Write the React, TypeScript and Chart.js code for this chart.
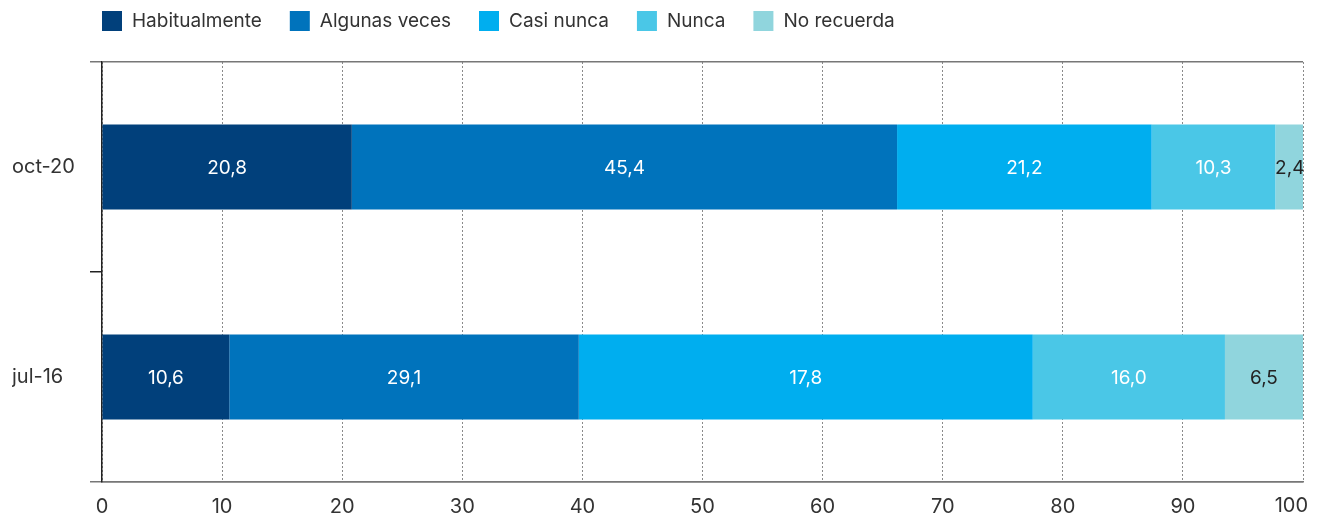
import React, { useEffect, useRef } from 'react';
import { Chart, registerables } from 'chart.js';

Chart.register(...registerables);

const categories = ['oct-20', 'jul-16'];
const seriesNames = ['Habitualmente', 'Algunas veces', 'Casi nunca', 'Nunca', 'No recuerda'];
const habitualmente = [20.8, 10.6];
const algunasVeces = [45.4, 29.1];
const casiNunca = [21.2, 37.8];
const casiNuncaShown = [21.2, 17.8];
const nunca = [10.3, 16.0];
const noRecuerda = [2.4, 6.5];
const seriesColors = ['#01407b', '#0073bc', '#00aeef', '#4ac7e7', '#90d5dd'];
const labelColors = ['#ffffff', '#ffffff', '#ffffff', '#ffffff', '#222222'];
const xMin = 0;
const xMax = 100;
const xStep = 10;

const FONT = 'Inter, "Liberation Sans", Arial, sans-serif';

const fmt = (v: number) => v.toFixed(1).replace('.', ',');

const valueLabelPlugin = {
  id: 'valueLabels',
  afterDatasetsDraw(chart: any) {
    const ctx = chart.ctx;
    ctx.save();
    ctx.font = `19px ${FONT}`;
    ctx.textAlign = 'center';
    ctx.textBaseline = 'middle';
    chart.data.datasets.forEach((ds: any, di: number) => {
      const meta = chart.getDatasetMeta(di);
      meta.data.forEach((el: any, i: number) => {
        const shown = ds.shownValues ? ds.shownValues[i] : ds.data[i];
        const cx = (el.x + el.base) / 2;
        ctx.fillStyle = labelColors[di];
        ctx.fillText(fmt(shown), cx, el.y + 1);
      });
    });
    ctx.restore();
  },
};

const lastTickPlugin = {
  id: 'lastTick',
  afterDraw(chart: any) {
    const ctx = chart.ctx;
    const sx = chart.scales.x;
    ctx.save();
    ctx.font = `20px ${FONT}`;
    ctx.fillStyle = '#333333';
    ctx.textAlign = 'right';
    ctx.textBaseline = 'top';
    ctx.fillText(String(xMax), sx.getPixelForValue(xMax) + 5, sx.top + 14);
    ctx.restore();
  },
};

const customLegendPlugin = {
  id: 'customLegend',
  afterDraw(chart: any) {
    const ctx = chart.ctx;
    ctx.save();
    ctx.font = `19px ${FONT}`;
    ctx.textAlign = 'left';
    ctx.textBaseline = 'middle';
    let x = chart.chartArea.left;
    const box = 20;
    const top = 11;
    chart.data.datasets.forEach((ds: any) => {
      ctx.fillStyle = ds.backgroundColor;
      ctx.fillRect(x, top, box, box);
      const tx = x + box + 10;
      ctx.fillStyle = '#333333';
      ctx.fillText(ds.label, tx, top + box / 2);
      x = tx + ctx.measureText(ds.label).width + 28;
    });
    ctx.restore();
  },
};

export default function App() {
  const ref = useRef<HTMLCanvasElement | null>(null);

  useEffect(() => {
    if (!ref.current) return;
    const seriesValues = [habitualmente, algunasVeces, casiNunca, nunca, noRecuerda];
    const chart = new Chart(ref.current, {
      type: 'bar',
      data: {
        labels: categories,
        datasets: seriesNames.map((name, i) => ({
          label: name,
          data: seriesValues[i],
          backgroundColor: seriesColors[i],
          borderWidth: 0,
          barPercentage: 0.405,
          categoryPercentage: 1,
          shownValues: i === 2 ? casiNuncaShown : undefined,
        })) as any,
      },
      options: {
        indexAxis: 'y',
        animation: false,
        responsive: true,
        maintainAspectRatio: false,
        layout: { padding: { top: 62, left: 12, right: 14, bottom: 0 } },
        plugins: {
          legend: { display: false },
          tooltip: { enabled: false },
        },
        scales: {
          x: {
            stacked: true,
            min: xMin,
            max: xMax,
            ticks: {
              stepSize: xStep,
              color: '#333333',
              font: { family: FONT, size: 20 },
              padding: 13,
              callback: (v: any) => (Number(v) === xMax ? '' : String(v)),
            },
            grid: {
              color: '#8a8a8a',
              lineWidth: 1,
              drawTicks: false,
            },
            border: { color: '#777777', width: 1.5, dash: [2, 2] },
            afterFit: (scale: any) => {
              scale.height = 32;
              scale.paddingRight = 0;
            },
          },
          y: {
            stacked: true,
            offset: true,
            ticks: {
              color: '#333333',
              font: { family: FONT, size: 20 },
              crossAlign: 'far',
            },
            grid: {
              offset: true,
              drawOnChartArea: true,
              color: (c: any) => (c.index === 1 ? 'rgba(0,0,0,0)' : '#777777'),
              tickColor: (c: any) => (c.index === 1 ? '#222222' : '#777777'),
              tickLength: 12,
              lineWidth: 1.5,
            },
            border: { color: '#222222', width: 1.5 },
            afterFit: (scale: any) => {
              scale.width = 90;
            },
          },
        },
      },
      plugins: [valueLabelPlugin, customLegendPlugin, lastTickPlugin],
    } as any);
    return () => chart.destroy();
  }, []);

  return (
    <div style={{ position: 'absolute', left: 0, top: 0, width: 1317, height: 514, background: '#ffffff' }}>
      <canvas ref={ref} />
    </div>
  );
}
